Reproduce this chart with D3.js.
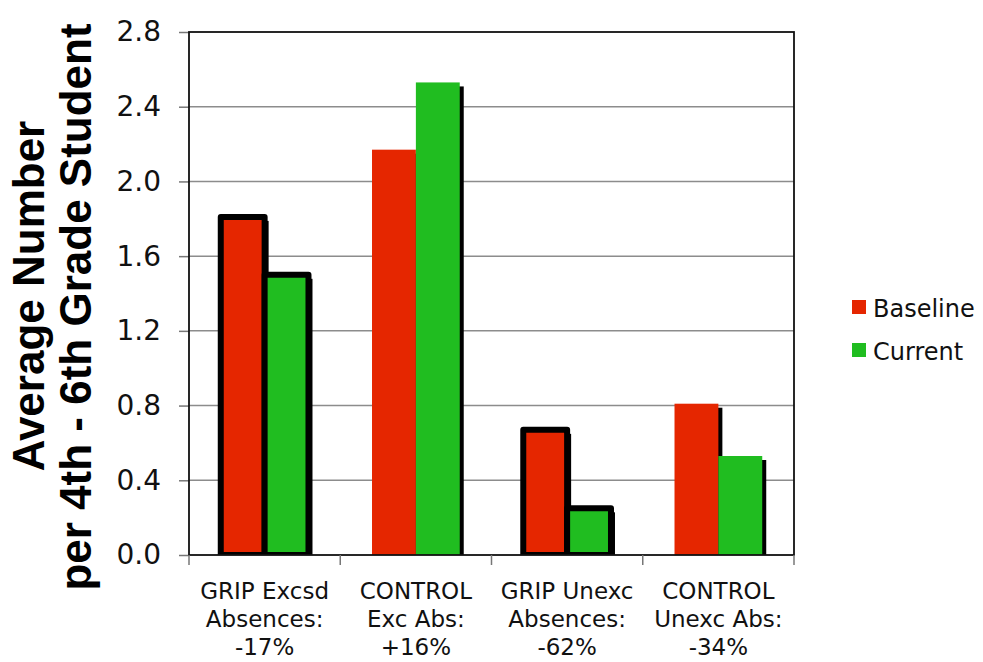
<!DOCTYPE html>
<html>
<head>
<meta charset="utf-8">
<script src="https://cdn.jsdelivr.net/npm/d3@7"></script>
<style>
  html, body { margin: 0; padding: 0; background: #ffffff; }
  svg { display: block; }
</style>
</head>
<body>
<svg id="chart" width="983" height="662"></svg>
<script>
// Absence data: average number per 4th-6th grade student
const groups = ["GRIP", "CONTROL", "GRIP", "CONTROL"];
const categoryLines = [
  ["GRIP Excsd", "Absences:", "-17%"],
  ["CONTROL", "Exc Abs:", "+16%"],
  ["GRIP Unexc", "Absences:", "-62%"],
  ["CONTROL", "Unexc Abs:", "-34%"]
];
const seriesNames = ["Baseline", "Current"];
const baselineValues = [1.81, 2.17, 0.67, 0.81];
const currentValues = [1.50, 2.53, 0.25, 0.53];
const yTickValues = [0.0, 0.4, 0.8, 1.2, 1.6, 2.0, 2.4, 2.8];
const yTitleLines = ["Average Number", "per 4th - 6th Grade Student"];

const seriesColors = { "Baseline": "#e52600", "Current": "#20bd20" };

const svg = d3.select("#chart");
const W = 983, H = 662;
const margin = { top: 32, right: 189, bottom: 107, left: 189 };
const innerW = W - margin.left - margin.right;
const innerH = H - margin.top - margin.bottom;

const catIdx = d3.range(groups.length);
const x0 = d3.scaleBand()
  .domain(catIdx)
  .range([0, innerW])
  .paddingInner(0.42)
  .paddingOuter(0.21);
const x1 = d3.scaleBand()
  .domain(seriesNames)
  .range([0, x0.bandwidth()]);
const y = d3.scaleLinear().domain([0, 2.8]).range([innerH, 0]);

const g = svg.append("g").attr("transform", `translate(${margin.left},${margin.top})`);

// horizontal gridlines
g.append("g").selectAll("line")
  .data(yTickValues.filter(v => v > 0 && v < 2.8))
  .join("line")
  .attr("x1", 0).attr("x2", innerW)
  .attr("y1", d => y(d)).attr("y2", d => y(d))
  .attr("stroke", "#8c8c8c").attr("stroke-width", 1.5);

// y axis with tick labels
const yAxis = g.append("g")
  .call(d3.axisLeft(y).tickValues(yTickValues).tickFormat(d3.format(".1f")).tickSizeInner(10).tickSizeOuter(0).tickPadding(18));
yAxis.select(".domain").remove();
yAxis.selectAll(".tick line").attr("stroke", "#777").attr("stroke-width", 1.5);
yAxis.selectAll(".tick text")
  .attr("font-family", "'DejaVu Sans', Verdana, sans-serif")
  .attr("font-size", 28)
  .attr("fill", "#111");

// bar data
const barData = [];
catIdx.forEach(i => {
  barData.push({ i, series: "Baseline", value: baselineValues[i], group: groups[i] });
  barData.push({ i, series: "Current", value: currentValues[i], group: groups[i] });
});

// clip so drop shadows stay inside the plot area
svg.append("defs").append("clipPath").attr("id", "plotClip")
  .append("rect").attr("x", 0).attr("y", 0).attr("width", innerW).attr("height", innerH);

const barsG = g.append("g").attr("clip-path", "url(#plotClip)");

// drop shadows
barsG.append("g").selectAll("rect")
  .data(barData)
  .join("rect")
  .attr("x", d => x0(d.i) + x1(d.series) + 4)
  .attr("y", d => y(d.value) + 4)
  .attr("width", x1.bandwidth())
  .attr("height", d => innerH - y(d.value))
  .attr("fill", "#000");

// bars; GRIP groups carry a heavy black outline
barsG.append("g").selectAll("rect")
  .data(barData)
  .join("rect")
  .attr("x", d => x0(d.i) + x1(d.series))
  .attr("y", d => y(d.value))
  .attr("width", x1.bandwidth())
  .attr("height", d => innerH - y(d.value))
  .attr("fill", d => seriesColors[d.series])
  .attr("stroke", d => d.group === "GRIP" ? "#000" : "none")
  .attr("stroke-width", 6)
  .attr("stroke-linejoin", "round");

// plot frame
g.append("rect")
  .attr("x", 0).attr("y", 0).attr("width", innerW).attr("height", innerH)
  .attr("fill", "none").attr("stroke", "#111").attr("stroke-width", 1.8);

// category boundary ticks on the x axis
const step = x0.step();
g.append("g").selectAll("line")
  .data(d3.range(groups.length + 1))
  .join("line")
  .attr("x1", d => d * step).attr("x2", d => d * step)
  .attr("y1", innerH).attr("y2", innerH + 10)
  .attr("stroke", "#777").attr("stroke-width", 1.5);

// category labels
const labels = g.append("g").selectAll("text")
  .data(catIdx)
  .join("text")
  .attr("text-anchor", "middle")
  .attr("font-family", "'DejaVu Sans', Verdana, sans-serif")
  .attr("font-size", 23)
  .attr("fill", "#111")
  .attr("transform", i => `translate(${x0(i) + x0.bandwidth() / 2},${innerH + 44})`);
labels.selectAll("tspan")
  .data(i => categoryLines[i])
  .join("tspan")
  .attr("x", 0)
  .attr("dy", (d, k) => k === 0 ? 0 : 28)
  .text(d => d);

// y axis title, two bold lines
svg.append("g").selectAll("text")
  .data(yTitleLines)
  .join("text")
  .attr("transform", (d, k) => `translate(${k === 0 ? 44 : 91},${k === 0 ? 296 : 307}) rotate(-90)`)
  .attr("text-anchor", "middle")
  .attr("font-family", "'Liberation Sans', Arial, sans-serif")
  .attr("font-weight", "bold")
  .attr("font-size", 44)
  .attr("fill", "#000")
  .text(d => d);

// legend
const legend = svg.append("g").attr("transform", "translate(852,300)");
const items = legend.selectAll("g")
  .data(seriesNames)
  .join("g")
  .attr("transform", (d, k) => `translate(0,${k * 43})`);
items.append("rect")
  .attr("width", 14).attr("height", 14)
  .attr("fill", d => seriesColors[d]);
items.append("text")
  .attr("x", 21).attr("y", 17)
  .attr("font-family", "'DejaVu Sans', Verdana, sans-serif")
  .attr("font-size", 24)
  .attr("fill", "#111")
  .text(d => d);
</script>
</body>
</html>
